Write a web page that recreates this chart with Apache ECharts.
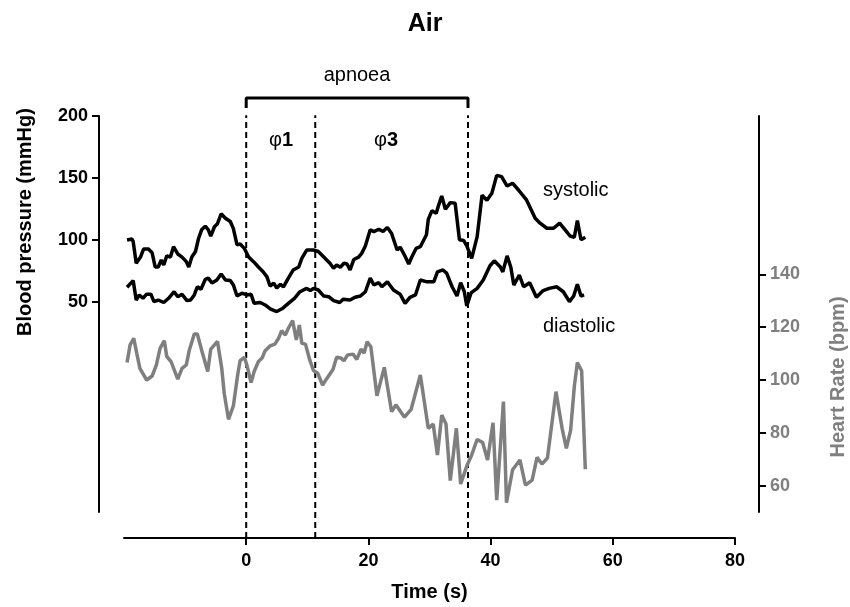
<!DOCTYPE html>
<html>
<head>
<meta charset="utf-8">
<script src="https://cdn.jsdelivr.net/npm/echarts@6/dist/echarts.min.js"></script>
<style>
  html, body { margin: 0; padding: 0; background: #fff; }
  #chart { width: 850px; height: 607px; }
</style>
</head>
<body>
<div id="chart"></div>
<script>
// time in seconds relative to apnoea onset
var sysTime = [-19.5, -18.7, -18.5, -18.0, -17.3, -16.8, -16.0, -15.4, -14.9, -14.4, -13.9, -13.5, -13.0, -12.4, -11.9, -11.2, -10.5, -9.8, -9.4, -8.9, -8.3, -7.8, -7.3, -6.7, -6.2, -5.8, -5.2, -4.7, -4.1, -3.4, -2.6, -2.1, -1.5, -1.0, -0.3, 0.4, 1.2, 2.0, 2.8, 3.4, 3.9, 4.5, 5.0, 5.6, 6.1, 6.9, 7.7, 8.6, 9.1, 9.9, 11.0, 11.8, 12.7, 13.7, 14.3, 14.8, 15.4, 16.0, 16.5, 17.0, 17.6, 18.4, 18.9, 19.5, 20.3, 20.9, 21.7, 22.4, 23.1, 23.8, 24.7, 25.2, 25.9, 26.6, 27.1, 27.8, 28.5, 29.5, 29.8, 30.4, 31.1, 31.5, 32.0, 32.6, 33.4, 34.2, 34.9, 35.6, 36.1, 36.9, 37.8, 38.6, 39.4, 40.2, 41.0, 41.8, 42.7, 43.6, 44.6, 45.9, 47.3, 48.1, 49.2, 50.3, 51.3, 52.2, 53.0, 53.7, 54.2, 54.8, 55.5]
var sysValues = [99.8, 100.6, 98.5, 81, 86, 92.5, 92.5, 89.5, 78, 78, 83.6, 79.6, 87, 86, 94.4, 88.5, 86, 82.3, 78, 86, 90.5, 101, 108, 111, 108, 103, 110.5, 113, 121, 117.4, 114.7, 109, 95.8, 96.6, 93, 86, 82.3, 78, 74, 70, 62.6, 65, 61, 64, 62, 69, 75.6, 78, 85, 91.7, 91.7, 90.5, 86, 81, 77, 79.6, 77.8, 81, 80.4, 75.6, 84, 86, 89, 95, 108, 106.6, 108.5, 106.6, 110, 105, 91.7, 94, 87.7, 80.4, 86, 93, 94.4, 104, 116.5, 123.5, 121.4, 128, 135.4, 124.6, 130, 129.5, 100, 99.4, 95, 85, 102.5, 136, 132, 137.5, 152, 151, 143.4, 145.7, 140, 132, 117.4, 113.4, 109.3, 109.3, 113.4, 108, 103, 102, 115.5, 100, 102]

var diaTime = [-19.5, -18.5, -18.0, -17.5, -16.9, -16.3, -15.6, -15.1, -14.4, -13.5, -12.7, -11.8, -11.2, -10.5, -9.7, -9.1, -8.5, -8.0, -7.4, -6.7, -6.2, -5.6, -4.8, -4.1, -3.4, -2.6, -2.1, -1.5, -0.7, 0.1, 0.8, 1.3, 2.3, 3.1, 4.0, 5.0, 6.0, 6.9, 7.9, 8.8, 9.9, 10.5, 11.0, 11.8, 12.7, 13.5, 14.3, 15.3, 15.9, 17.0, 17.8, 18.7, 19.5, 20.3, 20.9, 21.7, 22.2, 23.1, 24.1, 25.2, 26.0, 26.8, 27.7, 28.5, 29.6, 30.7, 31.3, 32.2, 32.8, 33.7, 34.5, 35.1, 35.7, 36.1, 36.8, 37.8, 38.8, 39.9, 40.6, 41.6, 42.0, 42.7, 43.3, 43.8, 44.7, 45.4, 46.4, 47.5, 48.6, 49.6, 50.8, 51.9, 52.9, 53.6, 54.2, 54.8, 55.3]
var diaValues = [61.6, 67, 51.3, 55.4, 52.7, 56, 56, 50, 51.3, 49.3, 52.7, 58, 54, 56, 50.8, 51.3, 55.4, 62, 60, 68, 69, 65, 67.5, 72.3, 67.5, 67, 63.4, 54.5, 56.8, 55.4, 56, 48.6, 49.3, 47.3, 44, 42, 44.7, 48.6, 52.7, 58, 60.7, 58.9, 60.7, 59.4, 54.5, 54, 50.8, 49.3, 52, 51.3, 53.5, 54.5, 58, 69, 63.4, 65.3, 62, 66, 59.4, 56, 48.6, 53.5, 55.4, 67.5, 66, 66, 74, 75.6, 73, 62, 54.5, 65.3, 58, 46.5, 57, 60.7, 67.5, 79, 83, 78, 74, 87, 78, 63.4, 71.5, 62, 65.3, 53.5, 58.9, 60.7, 62, 58, 50, 54.5, 64, 54.5, 55.4]

var hrTime = [-19.5, -19.0, -18.4, -17.9, -17.4, -16.3, -15.4, -14.7, -14.1, -13.4, -13.0, -12.3, -11.2, -10.5, -9.8, -9.3, -8.5, -8.0, -7.3, -6.3, -5.8, -4.7, -4.0, -3.6, -2.9, -2.1, -1.4, -1.0, -0.3, 0.1, 0.8, 1.3, 2.0, 2.6, 3.1, 3.9, 4.7, 5.3, 5.8, 6.4, 6.9, 7.6, 8.2, 8.7, 9.1, 9.7, 10.4, 11.0, 11.7, 12.5, 13.2, 14.2, 14.8, 15.5, 16.0, 16.6, 17.5, 18.1, 18.8, 19.3, 19.8, 20.4, 21.4, 22.6, 23.8, 24.5, 25.9, 27.0, 28.5, 29.8, 30.6, 31.3, 32.0, 32.7, 33.4, 34.4, 35.1, 36.1, 36.9, 37.8, 38.7, 39.5, 40.4, 41.0, 42.1, 42.6, 43.6, 44.8, 45.7, 46.8, 47.6, 48.4, 49.3, 50.7, 51.7, 52.4, 53.1, 53.7, 54.2, 54.9, 55.5]
var hrValues = [106.6, 113.3, 115.8, 110, 104.4, 100, 101.5, 105.7, 112, 114.9, 108.9, 107, 100.3, 104.4, 105.7, 111.4, 117.4, 117.4, 111.4, 103.2, 111.7, 114.6, 104.4, 95, 85.1, 90.2, 101.9, 107.3, 108.6, 105.7, 99, 103.2, 107, 108.3, 111.1, 112.9, 113.6, 115.8, 118.7, 117, 119.6, 122.5, 115.2, 120.8, 113.9, 113.6, 107.6, 103.6, 102.6, 98.1, 100.6, 104, 108.6, 108.3, 107.3, 109.5, 109.8, 107.8, 111.7, 110.2, 114.5, 112.6, 94, 104.8, 88, 90.6, 85.9, 88.9, 101.9, 81.7, 83.3, 71.6, 86.7, 83.3, 61.9, 81.7, 60.6, 67.4, 71.6, 77.5, 76.3, 69.7, 83.8, 54.5, 91.8, 53.5, 66, 69.7, 60.2, 62.1, 70.7, 68.2, 70.4, 95.6, 81.7, 74.1, 81, 97.5, 106.6, 103.5, 66.2]

// apnoea start, phase 1 end, apnoea end (s)
var phaseTimes = [0, 11.3, 36.3]

var xTicks = [0, 20, 40, 60, 80]
var bpTicks = [50, 100, 150, 200]
var hrTicks = [60, 80, 100, 120, 140]

function zip(xs, ys) {
    return xs.map(function (x, i) { return [x, ys[i]] })
}

var font = 'Liberation Sans, Arial, Helvetica, sans-serif'
var grey = '#7f7f7f'

var chart = echarts.init(document.getElementById('chart'), null, {renderer: 'canvas'})

var axisLine = {show: true, onZero: false, lineStyle: {color: '#000', width: 2}}
var tickStyle = {color: '#000', width: 2}

var dashSeries = phaseTimes.map(function (t) {
    return {
        type: 'line',
        xAxisIndex: 1,
        yAxisIndex: 2,
        data: [[t, 0], [t, 96.1]],
        showSymbol: false,
        silent: true,
        clip: false,
        lineStyle: {color: '#000', width: 2, type: [6, 4]}
    }
})

var apStart = phaseTimes[0]
var apEnd = phaseTimes[2]

var option = {
    animation: false,
    backgroundColor: '#fff',
    title: {
        text: 'Air',
        left: 'center',
        top: 7,
        textStyle: {fontFamily: font, fontSize: 25, fontWeight: 'bold', color: '#000'}
    },
    grid: [
        {left: 124, right: 115, top: 116, bottom: 95},
        {left: 124, right: 115, top: 98, bottom: 69}
    ],
    xAxis: [
        {gridIndex: 0, type: 'value', min: -20, max: 80, show: false},
        {
            gridIndex: 1,
            type: 'value',
            min: -20,
            max: 80,
            axisLine: axisLine,
            axisTick: {show: true, customValues: xTicks, length: 7, lineStyle: tickStyle},
            axisLabel: {customValues: xTicks, fontFamily: font, fontSize: 18, fontWeight: 'bold', color: '#000', margin: 14},
            splitLine: {show: false},
            name: 'Time (s)',
            nameLocation: 'middle',
            nameGap: 44,
            nameTextStyle: {fontFamily: font, fontSize: 20, fontWeight: 'bold', color: '#000'}
        }
    ],
    yAxis: [
        {
            gridIndex: 0,
            type: 'value',
            position: 'left',
            offset: 25,
            min: -120,
            max: 200,
            axisLine: axisLine,
            axisTick: {show: true, customValues: bpTicks, length: 7, lineStyle: tickStyle},
            axisLabel: {customValues: bpTicks, fontFamily: font, fontSize: 18, fontWeight: 'bold', color: '#000', margin: 11},
            splitLine: {show: false}
        },
        {
            gridIndex: 0,
            type: 'value',
            position: 'right',
            offset: 24,
            min: 50,
            max: 200,
            axisLine: axisLine,
            axisTick: {show: true, customValues: hrTicks, length: 7, lineStyle: tickStyle},
            axisLabel: {customValues: hrTicks, fontFamily: font, fontSize: 18, fontWeight: 'bold', color: grey, margin: 11},
            splitLine: {show: false}
        },
        {gridIndex: 1, type: 'value', min: 0, max: 100, show: false}
    ],
    graphic: [
        {
            type: 'text', x: 25, y: 222, rotation: Math.PI / 2,
            style: {text: 'Blood pressure (mmHg)', align: 'center', verticalAlign: 'middle', fontFamily: font, fontSize: 20, fontWeight: 'bold', fill: '#000'}
        },
        {
            type: 'text', x: 838, y: 377, rotation: Math.PI / 2,
            style: {text: 'Heart Rate (bpm)', align: 'center', verticalAlign: 'middle', fontFamily: font, fontSize: 20, fontWeight: 'bold', fill: grey}
        },
        {
            type: 'text', x: 357, y: 75,
            style: {text: 'apnoea', align: 'center', verticalAlign: 'middle', fontFamily: font, fontSize: 20, fill: '#000'}
        },
        {
            type: 'text', x: 281, y: 140,
            style: {
                text: '{p|φ}{n|1}', align: 'center', verticalAlign: 'middle',
                rich: {
                    p: {fontFamily: font, fontSize: 20, fill: '#000'},
                    n: {fontFamily: font, fontSize: 20, fontWeight: 'bold', fill: '#000'}
                }
            }
        },
        {
            type: 'text', x: 386, y: 140,
            style: {
                text: '{p|φ}{n|3}', align: 'center', verticalAlign: 'middle',
                rich: {
                    p: {fontFamily: font, fontSize: 20, fill: '#000'},
                    n: {fontFamily: font, fontSize: 20, fontWeight: 'bold', fill: '#000'}
                }
            }
        },
        {
            type: 'text', x: 543, y: 190,
            style: {text: 'systolic', align: 'left', verticalAlign: 'middle', fontFamily: font, fontSize: 20, fill: '#000'}
        },
        {
            type: 'text', x: 543, y: 326,
            style: {text: 'diastolic', align: 'left', verticalAlign: 'middle', fontFamily: font, fontSize: 20, fill: '#000'}
        }
    ],
    series: dashSeries.concat([
        {
            // apnoea bracket
            type: 'line',
            xAxisIndex: 1,
            yAxisIndex: 2,
            data: [[apStart, 97.7], [apStart, 100], [apEnd, 100], [apEnd, 97.7]],
            showSymbol: false,
            silent: true,
            clip: false,
            lineStyle: {color: '#000', width: 3}
        },
        {
            name: 'Heart rate',
            type: 'line',
            xAxisIndex: 0,
            yAxisIndex: 1,
            data: zip(hrTime, hrValues),
            showSymbol: false,
            lineStyle: {color: grey, width: 3.5},
            z: 3
        },
        {
            name: 'diastolic',
            type: 'line',
            xAxisIndex: 0,
            yAxisIndex: 0,
            data: zip(diaTime, diaValues),
            showSymbol: false,
            lineStyle: {color: '#000', width: 3.5},
            z: 4
        },
        {
            name: 'systolic',
            type: 'line',
            xAxisIndex: 0,
            yAxisIndex: 0,
            data: zip(sysTime, sysValues),
            showSymbol: false,
            lineStyle: {color: '#000', width: 3.5},
            z: 4
        }
    ])
}

chart.setOption(option)
</script>
</body>
</html>
